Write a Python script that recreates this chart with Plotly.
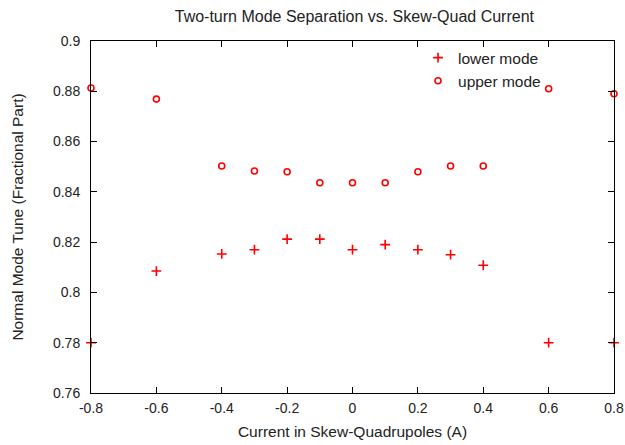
import plotly.graph_objects as go

current = [-0.8, -0.6, -0.4, -0.3, -0.2, -0.1, 0.0, 0.1, 0.2, 0.3, 0.4, 0.6, 0.8]
lower_mode = [0.780, 0.8085, 0.8153, 0.817, 0.8212, 0.8212, 0.817, 0.819, 0.817, 0.815, 0.8108, 0.780, 0.780]
upper_mode = [0.8813, 0.8769, 0.8503, 0.8483, 0.848, 0.8436, 0.8436, 0.8436, 0.848, 0.8503, 0.8503, 0.881, 0.879]

x_ticks = [-0.8, -0.6, -0.4, -0.2, 0.0, 0.2, 0.4, 0.6, 0.8]
x_ticklabels = ["-0.8", "-0.6", "-0.4", "-0.2", "0", "0.2", "0.4", "0.6", "0.8"]
y_ticks = [0.76, 0.78, 0.80, 0.82, 0.84, 0.86, 0.88, 0.90]
y_ticklabels = ["0.76", "0.78", "0.8", "0.82", "0.84", "0.86", "0.88", "0.9"]

font_family = "Liberation Sans, Arial, sans-serif"
text_color = "#222"

fig = go.Figure()
fig.add_trace(go.Scatter(
    x=current, y=lower_mode, mode="markers", name="lower mode",
    marker=dict(symbol="cross-thin", size=7, color="red",
                line=dict(color="red", width=1.6)),
    cliponaxis=False,
))
fig.add_trace(go.Scatter(
    x=current, y=upper_mode, mode="markers", name="upper mode",
    marker=dict(symbol="circle-open", size=6, color="red",
                line=dict(color="red", width=1.6)),
    cliponaxis=False,
))

axis_common = dict(
    showline=True, linecolor="black", linewidth=1, mirror="ticks",
    ticks="inside", ticklen=6, tickcolor="black", tickwidth=1,
    showgrid=False, zeroline=False, automargin=False,
    tickfont=dict(family=font_family, size=14, color=text_color),
)

fig.update_layout(
    width=625, height=445,
    margin=dict(l=91, r=11, t=41, b=52),
    paper_bgcolor="white", plot_bgcolor="white",
    title=dict(text="Two-turn Mode Separation vs. Skew-Quad Current",
               x=0.567, xanchor="center", y=0.963, yanchor="middle",
               font=dict(family=font_family, size=16, color=text_color)),
    xaxis=dict(range=[-0.8, 0.8], tickvals=x_ticks, ticktext=x_ticklabels,
               ticklabelstandoff=2,
               title=dict(text="Current in Skew-Quadrupoles (A)", standoff=11,
                          font=dict(family=font_family, size=15.5, color=text_color)),
               **axis_common),
    yaxis=dict(range=[0.76, 0.90], tickvals=y_ticks, ticktext=y_ticklabels,
               ticklabelstandoff=7,
               title=dict(text="Normal Mode Tune (Fractional Part)", standoff=25,
                          font=dict(family=font_family, size=15.5, color=text_color)),
               **axis_common),
    legend=dict(x=0.87, y=1.0, xanchor="right", yanchor="top",
                bgcolor="rgba(0,0,0,0)", borderwidth=0,
                font=dict(family=font_family, size=15.5, color=text_color),
                tracegroupgap=0, itemwidth=30),
    showlegend=True,
)

fig.write_html("out.html")
